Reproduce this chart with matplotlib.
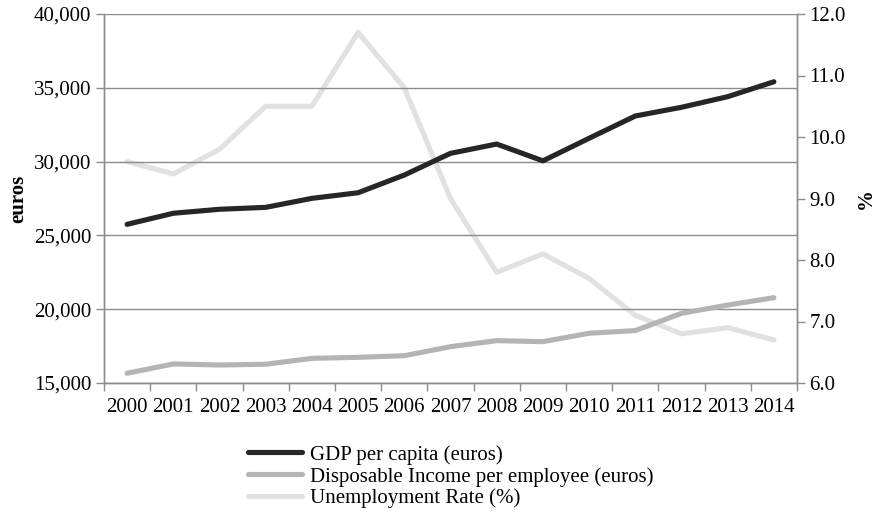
import matplotlib
matplotlib.use("Agg")
import matplotlib.pyplot as plt
from matplotlib.ticker import FuncFormatter, FixedLocator

plt.rcParams['font.family'] = ['Liberation Serif', 'DejaVu Serif']

years = ['2000', '2001', '2002', '2003', '2004', '2005', '2006', '2007',
         '2008', '2009', '2010', '2011', '2012', '2013', '2014']
gdp_per_capita = [25750, 26500, 26770, 26900, 27510, 27890, 29090, 30560,
                  31190, 30050, 31580, 33090, 33680, 34400, 35410]
disposable_income = [15660, 16290, 16220, 16270, 16670, 16740, 16850, 17460,
                     17870, 17800, 18370, 18550, 19720, 20280, 20780]
unemployment_rate = [9.6, 9.4, 9.8, 10.5, 10.5, 11.7, 10.8, 9.0,
                     7.8, 8.1, 7.7, 7.1, 6.8, 6.9, 6.7]

c_gdp = '#262626'
c_inc = '#b4b4b4'
c_unemp = '#e1e1e1'
grid_c = '#8c8c8c'
lw = 3.7
fs = 15

fig = plt.figure(figsize=(8.79, 5.12), dpi=100)
ax = fig.add_axes([104/879, 1-383/512, (797-104)/879, (383-14)/512])
ax2 = ax.twinx()

x = list(range(len(years)))
ax.plot(x, gdp_per_capita, color=c_gdp, lw=lw, solid_capstyle='round', zorder=4,
        label='GDP per capita (euros)')
ax.plot(x, disposable_income, color=c_inc, lw=lw, solid_capstyle='round', zorder=3,
        label='Disposable Income per employee (euros)')
ax2.plot(x, unemployment_rate, color=c_unemp, lw=lw, solid_capstyle='round',
         label='Unemployment Rate (%)')

# draw secondary axis beneath primary lines
ax.set_zorder(ax2.get_zorder() + 1)
ax.patch.set_visible(False)

ax.set_xlim(-0.5, len(years) - 0.5)
ax.set_ylim(15000, 40000)
ax2.set_ylim(6.0, 12.0)

ax.set_yticks(range(15000, 40001, 5000))
ax.yaxis.set_major_formatter(FuncFormatter(lambda v, p: f'{int(v):,}'))
ax2.set_yticks([6, 7, 8, 9, 10, 11, 12])
ax2.yaxis.set_major_formatter(FuncFormatter(lambda v, p: f'{v:.1f}'))

ax.set_xticks(x)
ax.set_xticklabels(years)
ax.xaxis.set_minor_locator(FixedLocator([i - 0.5 for i in range(len(years) + 1)]))
ax.tick_params(axis='x', which='major', length=0, labelsize=fs, pad=11)
ax.tick_params(axis='x', which='minor', length=6, color=grid_c, width=1)
ax.tick_params(axis='y', length=6, color=grid_c, width=1, labelsize=fs, pad=3)
ax2.tick_params(axis='y', length=6, color=grid_c, width=1, labelsize=fs, pad=3)

ax.yaxis.grid(True, color=grid_c, lw=1)
ax.set_axisbelow(True)

for a in (ax, ax2):
    a.spines['top'].set_visible(False)
    for s in ('left', 'right', 'bottom'):
        a.spines[s].set_color(grid_c)
        a.spines[s].set_linewidth(1)

ax.set_ylabel('euros', fontsize=fs, fontweight='bold', labelpad=4)
ax2.set_ylabel('%', fontsize=fs, fontweight='bold', labelpad=7)

handles = ax.get_lines() + ax2.get_lines()
fig.legend(handles, [h.get_label() for h in handles],
           loc='upper left', bbox_to_anchor=(248/879, 1-445/512),
           frameon=False, fontsize=fs, handlelength=2.6, handletextpad=0.4,
           labelspacing=0.1, borderpad=0, borderaxespad=0)

fig.savefig('out.png', dpi=100)
